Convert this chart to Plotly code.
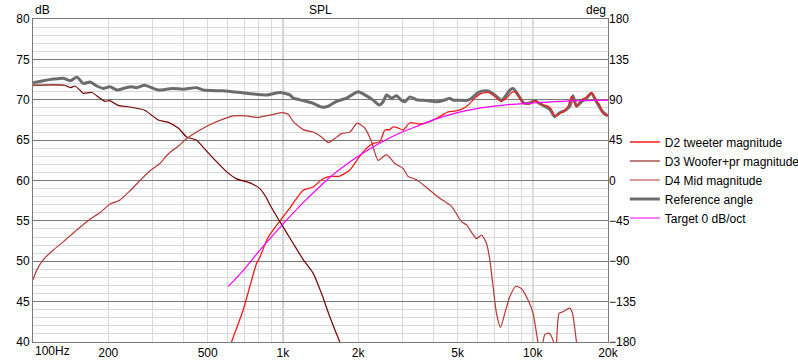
import math
import plotly.graph_objects as go

# ---------------- data ----------------
tweeter_freq = [600, 623, 694, 738, 785, 809, 861, 887, 973, 1067, 1100, 1206, 1322, 1428, 1542, 1690,
                1854, 2001, 2162, 2297, 2443, 2559, 2679, 2762, 2892, 3028, 3221, 3532, 3873, 4180,
                4583, 4875, 5186, 5511, 5861, 6138, 6626, 7047, 7494, 7848, 8218, 8472, 8735, 9146,
                9727, 10186, 10666, 10995, 11514, 11880, 12246, 12823, 13428, 13842, 14283, 14588,
                14957, 15660, 16398, 17171, 17539, 17981, 18535, 19106, 19715, 20000]
tweeter_db = [38.5, 40.0, 44.0, 46.9, 49.75, 50.5, 52.6, 53.3, 55.0, 56.6, 57.2, 58.8, 59.2, 60.1, 60.5, 60.55,
              61.3, 62.75, 64.0, 64.6, 64.8, 66.25, 66.3, 66.65, 66.5, 66.25, 67.15, 67.0, 67.3, 67.8,
              68.5, 68.6, 68.8, 69.35, 70.2, 70.7, 70.9, 70.4, 69.8, 70.2, 70.9, 71.0, 70.5, 69.6,
              69.5, 69.9, 69.6, 69.35, 69.2, 68.8, 68.0, 68.3, 68.7, 69.2, 70.4, 69.8,
              69.2, 70.0, 70.3, 70.9, 70.5, 69.8, 69.35, 68.3, 68.1, 68.1]

woofer_freq = [100, 134, 141, 147, 154, 159, 172, 185, 194, 203, 219, 244, 280, 317, 348, 381, 412, 452,
               480, 510, 595, 653, 738, 809, 861, 887, 973, 1100, 1206, 1322, 1428, 1542, 1690, 1800]
woofer_db = [71.8, 71.8, 71.5, 71.7, 71.2, 70.8, 70.9, 70.2, 69.8, 69.9, 69.3, 69.1, 68.7, 67.5, 67.2, 66.5,
             65.4, 65.0, 64.1, 63.2, 61.1, 60.2, 59.7, 59.0, 57.8, 57.0, 54.9, 52.2, 50.2, 48.5, 46.0,
             43.1, 40.0, 38.0]

mid_freq = [100, 103.5, 110, 120.6, 132, 150, 169, 185, 203, 223, 244, 268, 294, 322, 343, 364, 387, 412,
            452, 510, 577, 633, 716, 785, 887, 988, 1050, 1100, 1206, 1322, 1428, 1518, 1614, 1717, 1854,
            1983, 2128, 2263, 2405, 2599, 2805, 3028, 3171, 3426, 3873, 4246, 4729, 5186, 5430, 5955,
            6235, 6529, 6730, 6937, 7157, 7427, 7727, 8091, 8551, 9013, 9576, 10028, 10500, 10765,
            11169, 11620, 12057, 12359, 12738, 13216, 13637, 14060, 14414, 14957, 15417, 20000]
mid_db = [47.7, 48.9, 50.2, 51.4, 52.4, 53.9, 55.2, 56.0, 57.05, 57.6, 58.7, 60.0, 61.2, 62.1, 63.1, 63.8,
          64.4, 65.2, 66.0, 66.9, 67.6, 68.0, 68.0, 67.8, 68.1, 68.4, 68.2, 67.3, 66.3, 66.0, 65.4, 64.7,
          65.2, 65.8, 66.0, 67.1, 66.5, 64.8, 62.5, 63.2, 62.1, 61.5, 60.5, 60.1, 58.8, 57.8, 56.8, 54.9,
          54.5, 52.8, 53.25, 52.2, 50.2, 46.85, 43.55, 41.8, 43.55, 45.6, 46.9, 46.6, 45.2, 43.55, 39.9,
          38.5, 40.9, 41.1, 40.2, 38.5, 43.55, 43.75, 44.0, 44.2, 43.55, 40.0, 36.0, 32.0]

ref_freq = [100, 110, 121, 132, 141, 150, 159, 169, 180, 191, 203, 217, 233, 248, 260, 280, 317, 359, 399,
            452, 480, 577, 716, 861, 973, 1067, 1100, 1206, 1322, 1428, 1518, 1640, 1798, 2001, 2128,
            2297, 2428, 2519, 2599, 2722, 2850, 2984, 3076, 3221, 3426, 3756, 4118, 4377, 4656, 4800,
            5105, 5430, 5687, 6042, 6328, 6626, 7047, 7494, 7798, 8091, 8341, 8735, 9204, 9727, 10186,
            10666, 11169, 11695, 12246, 12823, 13428, 14060, 14495, 14957, 15660, 16398, 17171, 17981,
            18831, 19715, 20000]
ref_deg = [108.9, 111.2, 113.0, 113.9, 111.2, 115.2, 108.0, 109.8, 105.3, 102.6, 104.4, 100.8, 103.1, 104.4,
           103.5, 106.2, 100.8, 102.6, 101.7, 103.5, 100.8, 99.9, 97.2, 95.4, 98.1, 95.4, 91.8, 89.1, 85.95,
           81.9, 82.8, 88.2, 91.8, 99.0, 95.4, 89.55, 84.15, 87.75, 95.4, 91.8, 94.5, 89.1, 87.75, 93.2,
           90.0, 89.1, 87.75, 89.1, 91.8, 89.55, 89.55, 89.1, 91.8, 98.1, 99.9, 99.9, 95.4, 89.55, 94.5,
           100.8, 102.6, 95.4, 86.4, 86.4, 89.1, 85.5, 82.8, 79.2, 71.1, 75.6, 77.85, 82.8, 94.5, 82.8,
           87.75, 91.8, 97.2, 87.75, 78.3, 72.9, 72.0]

target_freq = [604, 700, 800, 900, 1000, 1200, 1400, 1600, 1800, 2000, 2500, 3000, 3500, 4000, 5000,
               6000, 7000, 8000, 10000, 13000, 16000, 20000]
target_db = [46.85, 49.0, 51.2, 53.0, 54.6, 57.2, 59.2, 60.8, 62.0, 63.0, 64.8, 66.0, 66.8, 67.5, 68.4,
             68.9, 69.2, 69.4, 69.6, 69.8, 69.9, 69.95]

x_tick_vals = [200, 500, 1000, 2000, 5000, 10000, 20000]
x_tick_text = ["200", "500", "1k", "2k", "5k", "10k", "20k"]
x_minor_vals = [300, 400, 600, 700, 800, 900, 3000, 4000, 6000, 7000, 8000, 9000]
x_major_grid = [1000, 10000]
db_ticks = [40, 45, 50, 55, 60, 65, 70, 75, 80]
deg_ticks = [-180, -135, -90, -45, 0, 45, 90, 135, 180]

FONT = "Liberation Sans, Arial, sans-serif"
DARK = "#7a7a7a"
LIGHT = "#d9d9d9"

fig = go.Figure()
fig.add_trace(go.Scatter(x=tweeter_freq, y=tweeter_db, mode="lines", name="D2 tweeter magnitude",
                         yaxis="y2", line=dict(color="#ff1a1a", width=1.3, shape="spline", smoothing=0.6)))
fig.add_trace(go.Scatter(x=woofer_freq, y=woofer_db, mode="lines", name="D3 Woofer+pr magnitude",
                         yaxis="y2", line=dict(color="#7a0000", width=1.2, shape="spline", smoothing=0.6)))
fig.add_trace(go.Scatter(x=mid_freq, y=mid_db, mode="lines", name="D4 Mid magnitude",
                         yaxis="y2", line=dict(color="#bb3535", width=1.2, shape="spline", smoothing=0.6)))
# phase trace on the base (deg) axis so that the magnitude traces are drawn above it
fig.add_trace(go.Scatter(x=ref_freq, y=ref_deg, mode="lines", name="Reference angle", yaxis="y",
                         line=dict(color="#6c6c6c", width=3, shape="spline", smoothing=0.6)))
fig.add_trace(go.Scatter(x=target_freq, y=target_db, mode="lines", name="Target 0 dB/oct",
                         yaxis="y2", line=dict(color="#ff00ff", width=1.2, shape="spline", smoothing=0.8)))

for v in x_major_grid:
    fig.add_shape(type="line", xref="x", yref="paper", x0=v, x1=v, y0=0, y1=1,
                  line=dict(color=DARK, width=1), layer="below")

fig.update_layout(
    width=798, height=360,
    margin=dict(l=33, r=190, t=19, b=18, autoexpand=False),
    paper_bgcolor="white", plot_bgcolor="white",
    font=dict(family=FONT, size=12, color="black"),
    showlegend=True,
    legend=dict(xref="container", yref="container", x=0.783, y=0.5, xanchor="left", yanchor="middle",
                font=dict(size=12), bgcolor="rgba(0,0,0,0)", tracegroupgap=0),
    xaxis=dict(type="log", range=[2, math.log10(20000)], tickmode="array", tickvals=x_tick_vals,
               ticktext=x_tick_text, automargin=False,
               showgrid=True, gridcolor=LIGHT, gridwidth=1, ticks="", zeroline=False,
               minor=dict(tickmode="array", tickvals=x_minor_vals, showgrid=True, gridcolor=LIGHT, ticks=""),
               showline=True, linecolor=DARK, mirror=True, tickfont=dict(size=12)),
    yaxis=dict(range=[-180, 180], tickmode="array", tickvals=deg_ticks, side="right",
               showgrid=False, automargin=False,
               ticks="", zeroline=False, showline=False, tickfont=dict(size=12)),
    yaxis2=dict(range=[40, 80], tickmode="array", tickvals=db_ticks, overlaying="y", side="left",
                showgrid=True, gridcolor=DARK, ticks="", zeroline=False, automargin=False,
                minor=dict(tickmode="linear", tick0=40, dtick=1, showgrid=True, gridcolor=LIGHT, ticks=""),
                showline=True, linecolor=DARK, mirror=True, tickfont=dict(size=12)),
    annotations=[
        dict(text="SPL", xref="paper", yref="paper", x=0.5, y=1, xanchor="center", yanchor="bottom",
             showarrow=False, font=dict(size=12)),
        dict(text="dB", xref="paper", yref="paper", x=0, y=1, xanchor="left", yanchor="bottom",
             showarrow=False, font=dict(size=12)),
        dict(text="deg", xref="paper", yref="paper", x=1, y=1, xanchor="right", yanchor="bottom",
             showarrow=False, font=dict(size=12)),
        dict(text="100Hz", xref="paper", yref="paper", x=0, y=0, xanchor="left", yanchor="top",
             showarrow=False, font=dict(size=12)),
    ],
)

fig.write_html("out.html", config={"displayModeBar": False},
               post_script="document.body.style.margin='0';document.body.style.padding='0';")
